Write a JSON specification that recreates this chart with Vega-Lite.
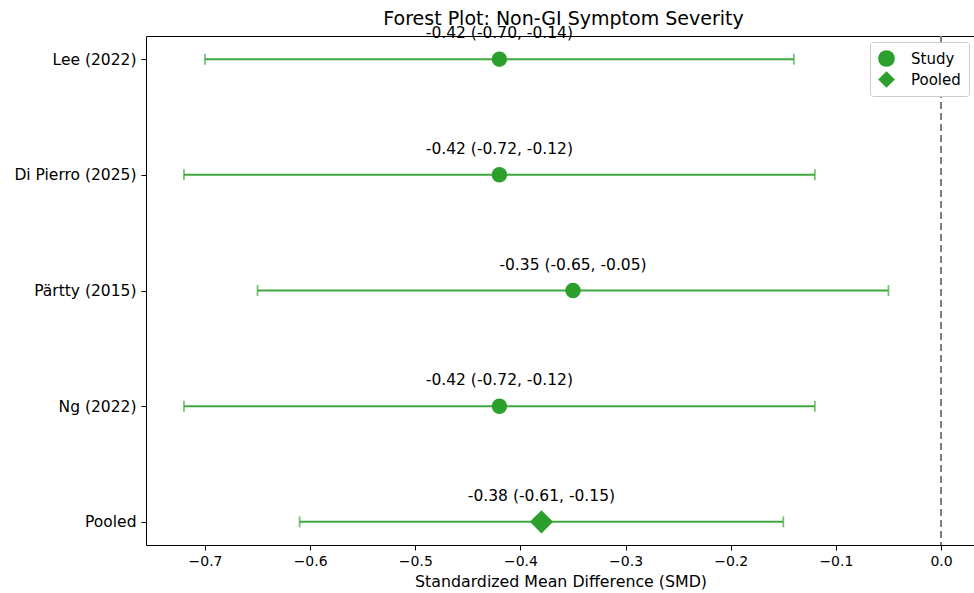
{
  "$schema": "https://vega.github.io/schema/vega-lite/v6.json",
  "autosize": {"type": "none"},
  "padding": {"left": 146, "top": 36, "right": 0, "bottom": 48},
  "width": 829,
  "height": 509,
  "background": "white",
  "title": {"text": "Forest Plot: Non-GI Symptom Severity", "fontSize": 19, "fontWeight": "normal", "font": "DejaVu Sans", "color": "#000", "anchor": "middle", "offset": -3, "dx": 3},
  "config": {
    "font": "DejaVu Sans",
    "view": {"stroke": "#000", "strokeWidth": 1},
    "axis": {"labelFont": "DejaVu Sans", "titleFont": "DejaVu Sans", "labelFontSize": 14, "titleFontSize": 15.8, "titleFontWeight": "normal", "labelColor": "#000", "titleColor": "#000", "domainColor": "#000", "tickColor": "#000", "grid": false}
  },
  "data": {"values": [
    {"study": "Lee (2022)", "smd": -0.42, "lo": -0.70, "hi": -0.14, "type": "Study", "label": "-0.42 (-0.70, -0.14)"},
    {"study": "Di Pierro (2025)", "smd": -0.42, "lo": -0.72, "hi": -0.12, "type": "Study", "label": "-0.42 (-0.72, -0.12)"},
    {"study": "Pärtty (2015)", "smd": -0.35, "lo": -0.65, "hi": -0.05, "type": "Study", "label": "-0.35 (-0.65, -0.05)"},
    {"study": "Ng (2022)", "smd": -0.42, "lo": -0.72, "hi": -0.12, "type": "Study", "label": "-0.42 (-0.72, -0.12)"},
    {"study": "Pooled", "smd": -0.38, "lo": -0.61, "hi": -0.15, "type": "Pooled", "label": "-0.38 (-0.61, -0.15)"}
  ]},
  "encoding": {
    "y": {"field": "study", "type": "nominal", "sort": null,
          "scale": {"type": "point", "padding": 0.2},
          "axis": {"title": null, "tickSize": 5, "labelPadding": 5, "labelFontSize": 15.5, "domain": false}}
  },
  "layer": [
    {
      "mark": {"type": "rule", "color": "#7f7f7f", "strokeDash": [7, 4], "strokeWidth": 1.5},
      "encoding": {"x": {"datum": 0, "type": "quantitative"}, "y": null}
    },
    {
      "mark": {"type": "rule", "color": "#3fa83f", "strokeWidth": 2},
      "encoding": {
        "x": {"field": "lo", "type": "quantitative",
              "scale": {"domain": [-0.7561, 0.0323], "nice": false, "zero": false},
              "axis": {"title": "Standardized Mean Difference (SMD)", "values": [-0.7, -0.6, -0.5, -0.4, -0.3, -0.2, -0.1, 0.0], "format": ".1f", "tickSize": 5, "labelPadding": 4, "titlePadding": 6, "domain": false}},
        "x2": {"field": "hi"}
      }
    },
    {
      "mark": {"type": "tick", "color": "#3fa83f", "orient": "vertical", "size": 11, "thickness": 1.8},
      "encoding": {"x": {"field": "lo", "type": "quantitative"}}
    },
    {
      "mark": {"type": "tick", "color": "#3fa83f", "orient": "vertical", "size": 11, "thickness": 1.8},
      "encoding": {"x": {"field": "hi", "type": "quantitative"}}
    },
    {
      "transform": [{"filter": "datum.type === 'Study'"}],
      "mark": {"type": "point", "filled": true, "opacity": 1, "color": "#2ca02c", "size": 240},
      "encoding": {
        "x": {"field": "smd", "type": "quantitative"},
        "shape": {"field": "type", "type": "nominal",
                  "scale": {"domain": ["Study", "Pooled"], "range": ["circle", "diamond"]},
                  "legend": {"title": null, "orient": "top-right", "offset": 6, "symbolSize": 280, "symbolFillColor": "#2ca02c", "symbolStrokeColor": "#2ca02c", "symbolStrokeWidth": 0, "labelFontSize": 15, "labelColor": "#000", "labelFont": "DejaVu Sans", "strokeColor": "#cccccc", "fillColor": "white", "cornerRadius": 3, "padding": 8, "rowPadding": 4, "labelOffset": 16}}
      }
    },
    {
      "transform": [{"filter": "datum.type === 'Pooled'"}],
      "mark": {"type": "point", "filled": true, "opacity": 1, "color": "#2ca02c", "size": 540},
      "encoding": {
        "x": {"field": "smd", "type": "quantitative"},
        "shape": {"field": "type", "type": "nominal"}
      }
    },
    {
      "mark": {"type": "text", "fontSize": 15.5, "color": "#000", "baseline": "bottom", "dy": -18, "font": "DejaVu Sans"},
      "encoding": {
        "x": {"field": "smd", "type": "quantitative"},
        "text": {"field": "label"}
      }
    }
  ]
}
